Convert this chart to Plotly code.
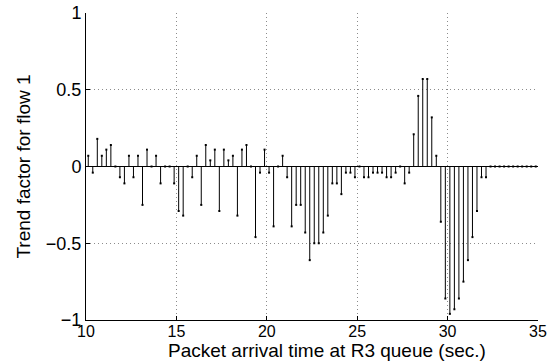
import plotly.graph_objects as go

# Sample times (sec.), one every 0.25 s
t_start = 10.125
t_step = 0.25
n_samples = 100
times = [t_start + t_step * k for k in range(n_samples)]

# Trend factor for flow 1 at each sample
trend = [
    0.07, -0.04, 0.18, 0.07, 0.11, 0.14, 0.0, -0.07, -0.11, 0.07,
    -0.07, 0.07, -0.25, 0.11, 0.0, 0.07, -0.11, 0.0, 0.0, -0.11,
    -0.29, -0.32, 0.0, -0.07, 0.07, -0.25, 0.14, 0.04, 0.11, -0.29,
    0.11, 0.04, 0.07, -0.32, 0.11, 0.14, 0.0, -0.46, -0.04, 0.11,
    -0.04, -0.39, 0.0, 0.07, -0.07, -0.39, -0.25, -0.25, -0.43, -0.61,
    -0.5, -0.5, -0.43, -0.32, -0.11, -0.11, -0.18, -0.04, -0.04, -0.07,
    0.0, -0.07, -0.07, -0.04, -0.04, -0.04, -0.07, -0.07, -0.04, 0.0,
    -0.11, -0.04, 0.21, 0.46, 0.57, 0.57, 0.32, 0.07, -0.36, -0.86,
    -0.96, -0.93, -0.86, -0.75, -0.61, -0.46, -0.29, -0.07, -0.07, 0.0,
    0.0, 0.0, 0.0, 0.0, 0.0, 0.0, 0.0, 0.0, 0.0, 0.0,
]

x_ticks = [10, 15, 20, 25, 30, 35]
y_ticks = [-1, -0.5, 0, 0.5, 1]
y_tick_text = ["\u22121", "\u22120.5", "0", "0.5", "1"]
x_title = "Packet arrival time at R3 queue (sec.)"
y_title = "Trend factor for flow 1"

# Build the stems as one broken line: baseline -> value, then a gap
stem_x, stem_y = [], []
for t, v in zip(times, trend):
    stem_x += [t, t, None]
    stem_y += [0, v, None]

fig = go.Figure()
fig.add_trace(go.Scatter(
    x=stem_x, y=stem_y, mode="lines",
    line=dict(color="black", width=1),
    hoverinfo="skip", showlegend=False,
))
fig.add_trace(go.Scatter(
    x=times, y=trend, mode="markers",
    marker=dict(color="black", size=2, symbol="square"),
    showlegend=False,
))

font_family = "Liberation Sans, Arial, Helvetica, sans-serif"
grid_style = dict(showgrid=True, gridcolor="rgba(0,0,0,0.45)", gridwidth=1, griddash="1px,3px")

fig.update_layout(
    width=556, height=362,
    margin=dict(l=86, r=18, t=13, b=42),
    paper_bgcolor="white", plot_bgcolor="white",
    font=dict(family=font_family, size=18, color="black"),
    xaxis=dict(
        range=[10, 35], tickvals=x_ticks, ticktext=[str(v) for v in x_ticks],
        ticks="inside", ticklen=4, tickcolor="black", ticklabelstandoff=-3,
        tickfont=dict(size=16),
        showline=True, linecolor="black", linewidth=1,
        zeroline=False, automargin=False,
        **grid_style,
    ),
    yaxis=dict(
        range=[-1, 1], tickvals=y_ticks, ticktext=y_tick_text,
        ticks="inside", ticklen=4, tickcolor="black",
        tickfont=dict(size=18),
        showline=True, linecolor="black", linewidth=1,
        zeroline=True, zerolinecolor="black", zerolinewidth=1, automargin=False,
        title=dict(text=y_title, font=dict(size=19), standoff=10),
        **grid_style,
    ),
    annotations=[dict(
        text=x_title, xref="paper", yref="paper",
        x=0.533, y=0, xanchor="center", yanchor="bottom", yshift=-42,
        showarrow=False, font=dict(size=19), borderpad=0,
    )],
)

fig.write_html("out.html")
